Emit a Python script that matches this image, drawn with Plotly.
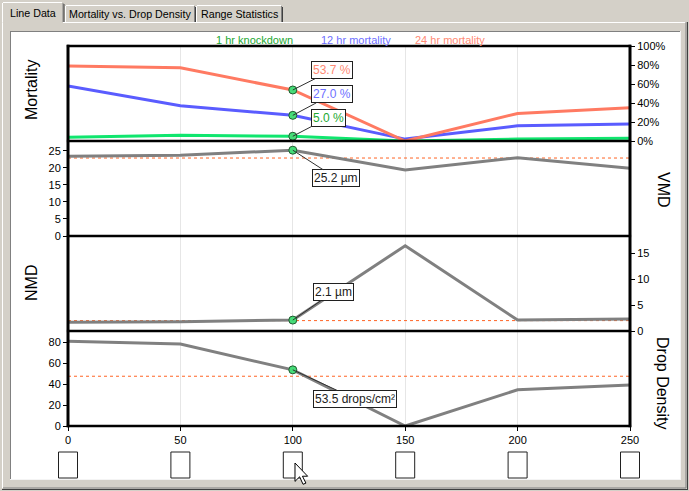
import plotly.graph_objects as go

# ---- data -----------------------------------------------------------------
x_vals = [0, 50, 100, 150, 200, 250]
x_ticks = [0, 50, 100, 150, 200, 250]

knockdown_1h = [4.0, 6.0, 5.0, 0.0, 2.0, 3.0]
mortality_12h = [58.0, 37.0, 27.0, 2.0, 16.0, 18.0]
mortality_24h = [79.0, 77.0, 53.7, 0.0, 29.0, 35.0]

vmd = [23.4, 23.7, 25.2, 19.4, 23.0, 19.9]
nmd = [1.7, 1.8, 2.1, 16.4, 2.1, 2.3]
drop_density = [80.7, 78.0, 53.5, 0.0, 34.5, 39.0]

vmd_ref = 22.9
nmd_ref = 2.0
drop_ref = 47.4

sel = 2  # index of the highlighted sample

mort_ticks = [0, 20, 40, 60, 80, 100]
vmd_ticks = [0, 5, 10, 15, 20, 25]
nmd_ticks = [0, 5, 10, 15]
drop_ticks = [0, 20, 40, 60, 80]

series_names = ["1 hr knockdown", "12 hr mortality", "24 hr mortality"]
tab_names = ["Line Data", "Mortality vs. Drop Density", "Range Statistics"]

# ---- styling ----------------------------------------------------------------
W, H = 689, 491
L, R, T, B = 68, 630, 46, 426  # plot area in pixels
FONT = "Liberation Sans"
GREEN_LINE, GREEN_TXT = "#10e66e", "#22a832"
BLUE_LINE, BLUE_TXT = "#5a5cff", "#6e70ff"
RED_LINE, RED_TXT = "#ff7a62", "#ff8a74"
GREY = "#808080"
REF = "#ff6424"
WIN = "#d4d0c8"
X_MIN, X_MAX = x_vals[0], x_vals[-1]


def fx(p):
    return (p - L) / (R - L)


def fy(p):
    return (B - p) / (B - T)


def data_to_paper(v):
    return (v - X_MIN) / (X_MAX - X_MIN)


fig = go.Figure()

# reference (dashed) levels
for y, ax in [(vmd_ref, "y2"), (nmd_ref, "y3"), (drop_ref, "y4")]:
    fig.add_trace(go.Scatter(x=[X_MIN, X_MAX], y=[y, y], mode="lines", yaxis=ax,
                             line=dict(color=REF, width=1, dash="3px,3px")))

# droplet size / density lines
for ys, ax in [(vmd, "y2"), (nmd, "y3"), (drop_density, "y4")]:
    fig.add_trace(go.Scatter(x=x_vals, y=ys, mode="lines", yaxis=ax,
                             line=dict(color=GREY, width=3)))

# mortality lines
for ys, c in [(knockdown_1h, GREEN_LINE), (mortality_12h, BLUE_LINE), (mortality_24h, RED_LINE)]:
    fig.add_trace(go.Scatter(x=x_vals, y=ys, mode="lines", yaxis="y",
                             line=dict(color=c, width=3)))

# highlighted sample markers
for ys, ax in [(knockdown_1h, "y"), (mortality_12h, "y"), (mortality_24h, "y"),
               (vmd, "y2"), (nmd, "y3"), (drop_density, "y4")]:
    fig.add_trace(go.Scatter(x=[x_vals[sel]], y=[ys[sel]], mode="markers", yaxis=ax,
                             marker=dict(size=8, color="#46dc78",
                                         line=dict(color="#1f5a2e", width=1))))

# value call-outs (offsets give the box centre relative to the point, in pixels)
xs = x_vals[sel]
callouts = [
    (f"{mortality_24h[sel]:.1f} %", mortality_24h[sel], "y", RED_TXT, 39.5, -20),
    (f"{mortality_12h[sel]:.1f} %", mortality_12h[sel], "y", BLUE_TXT, 39.5, -21),
    (f"{knockdown_1h[sel]:.1f} %", knockdown_1h[sel], "y", GREEN_TXT, 35.5, -18.5),
    (f"{vmd[sel]:.1f} µm", vmd[sel], "y2", "#202020", 43.5, 28),
    (f"{nmd[sel]:.1f} µm", nmd[sel], "y3", "#202020", 40.5, -28),
    (f"{drop_density[sel]:.1f} drops/cm²", drop_density[sel], "y4", "#202020", 62.5, 29),
]
annotations = []
for text, yv, ax, col, dx, dy in callouts:
    annotations.append(dict(x=xs, y=yv, xref="x", yref=ax, text=text, showarrow=True,
                            arrowhead=0, arrowwidth=1, arrowcolor="#303030",
                            ax=dx, ay=dy, xanchor="center", yanchor="middle",
                            bgcolor="white", bordercolor="#202020", borderwidth=1, borderpad=1,
                            font=dict(family=FONT, size=12, color=col)))


def label(text, cx, cy, size, color="black", angle=0):
    annotations.append(dict(x=fx(cx), y=fy(cy), xref="paper", yref="paper", text=text,
                            showarrow=False, textangle=angle, xanchor="center", yanchor="middle",
                            font=dict(family=FONT, size=size, color=color)))


# series captions above the plot
for name, cx, col in zip(series_names, [254, 356, 450], [GREEN_TXT, BLUE_TXT, RED_TXT]):
    label(name, cx, 40.5, 11, col)

# axis titles
label("Mortality", 31, 90, 16, angle=-90)
label("VMD", 663, 190, 16, angle=90)
label("NMD", 31, 283, 16, angle=-90)
label("Drop Density", 663, 383, 16, angle=90)

# tab captions
for text, cx, cy in zip(tab_names, [33, 130, 239], [13, 14, 14]):
    label(text, cx, cy, 10.7)

shapes = []


def line(x0, y0, x1, y1, color, w=1, layer="below"):
    shapes.append(dict(type="line", xref="paper", yref="paper", x0=fx(x0), x1=fx(x1),
                       y0=fy(y0), y1=fy(y1), line=dict(color=color, width=w), layer=layer))


# window chrome: tab control and its page
line(2.5, 22.5, 2.5, 488, "white")
line(63, 22.5, 686, 22.5, "white")
line(686, 22, 686, 488, "#808080")
line(687.5, 22, 687.5, 489.5, "#404040")
line(3, 488, 686, 488, "#808080")
line(2, 489.5, 688, 489.5, "#404040")
# selected tab
line(2.5, 3, 2.5, 22.5, "white")
line(3, 2.5, 62, 2.5, "white")
line(63, 3, 63, 22, "#808080")
line(64, 4, 64, 22, "#404040")
# other tabs
for a, b in [(65, 195), (196, 282)]:
    line(a + 0.5, 6, a + 0.5, 22, "white")
    line(a + 1, 5.5, b - 1, 5.5, "white")
    line(b - 0.5, 6, b - 0.5, 22, "#808080")
    line(b + 0.5, 7, b + 0.5, 22, "#404040")

# white chart panel
shapes.append(dict(type="rect", xref="paper", yref="paper", x0=fx(10), x1=fx(680),
                   y0=fy(479), y1=fy(31), fillcolor="white", line=dict(width=0), layer="below"))
line(10, 31.5, 680, 31.5, "#808080")
line(10.5, 31, 10.5, 479, "#808080")
line(10, 479.5, 681, 479.5, "#f4f4f4")
line(680.5, 31, 680.5, 480, "#f4f4f4")

# plot frame and panel separators
for yb in [0.0, 0.25, 0.5, 0.75, 1.0]:
    shapes.append(dict(type="line", xref="paper", yref="paper", x0=-0.002, x1=1.002,
                       y0=yb, y1=yb, line=dict(color="black", width=2.5)))
for xb in [0.0, 1.0]:
    shapes.append(dict(type="line", xref="paper", yref="paper", x0=xb, x1=xb,
                       y0=-0.003, y1=1.003, line=dict(color="black", width=3)))

# check boxes under each sample
half_box = 9.5 / (R - L)
for v in x_ticks:
    c = data_to_paper(v)
    shapes.append(dict(type="rect", xref="paper", yref="paper", x0=c - half_box, x1=c + half_box,
                       y0=fy(478), y1=fy(452), fillcolor="white",
                       line=dict(color="#202020", width=1)))

# mouse pointer
tipx, tipy, s = 295, 463, 1.15
pts = [(0, 0), (0, 16), (4, 12), (7, 18.5), (9.5, 17.5), (6.5, 11.5), (11, 11.5)]
path = "M " + " L ".join(f"{fx(tipx + px * s):.5f},{fy(tipy + py * s):.5f}" for px, py in pts) + " Z"
shapes.append(dict(type="path", xref="paper", yref="paper", path=path,
                   fillcolor="white", line=dict(color="black", width=1)))

tick_font = dict(family=FONT, size=11, color="black")
common_y = dict(showgrid=False, zeroline=False, showline=False, ticks="outside", ticklen=4,
                tickcolor="black", tickfont=tick_font, anchor="x", fixedrange=True)

fig.update_layout(
    width=W, height=H, autosize=False,
    margin=dict(l=L, r=W - R, t=T, b=H - B, pad=0),
    paper_bgcolor=WIN, plot_bgcolor="white",
    showlegend=False, hovermode=False,
    font=dict(family=FONT, size=11, color="black"),
    xaxis=dict(range=[X_MIN, X_MAX], tickvals=x_ticks, ticks="outside", ticklen=4,
               tickcolor="black", tickfont=tick_font, showgrid=True, gridcolor="#e6e6e6",
               gridwidth=1, zeroline=False, showline=False, anchor="y4", fixedrange=True),
    yaxis=dict(domain=[0.75, 1.0], range=[0, 100], tickvals=mort_ticks,
               ticktext=[f"{t}%" for t in mort_ticks], side="right", **common_y),
    yaxis2=dict(domain=[0.5, 0.75], range=[0, 27.9], tickvals=vmd_ticks, side="left", **common_y),
    yaxis3=dict(domain=[0.25, 0.5], range=[0, 18.27], tickvals=nmd_ticks, side="right", **common_y),
    yaxis4=dict(domain=[0.0, 0.25], range=[0, 90.5], tickvals=drop_ticks, side="left", **common_y),
    annotations=annotations,
    shapes=shapes,
)

fig.write_html("out.html", config=dict(displayModeBar=False))
